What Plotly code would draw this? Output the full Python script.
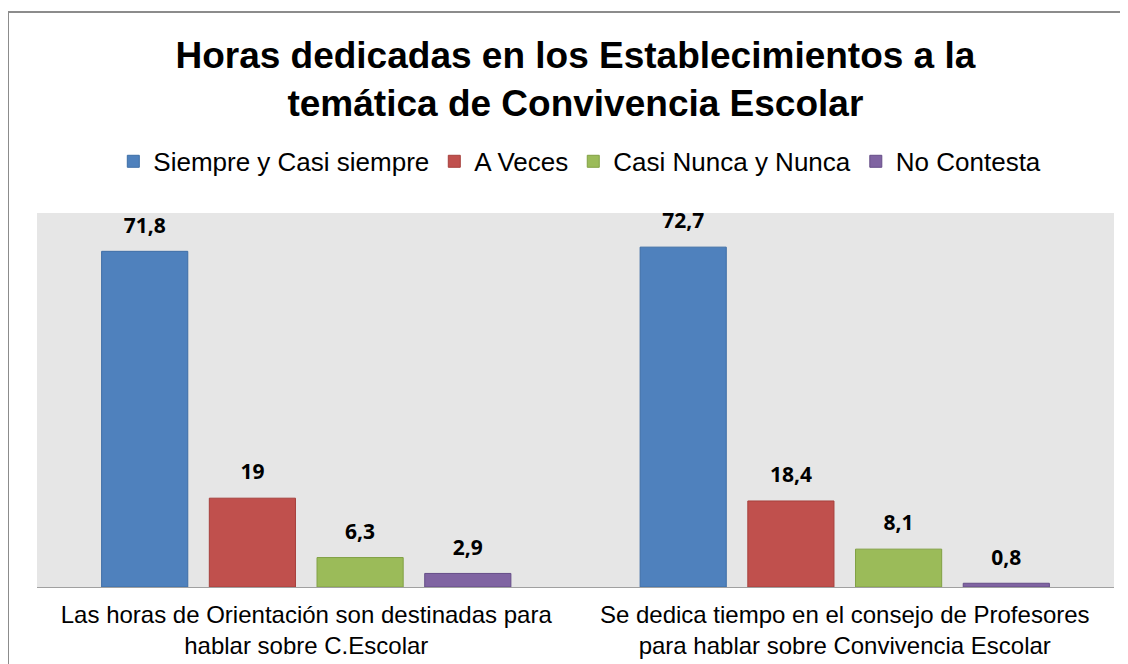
import plotly.graph_objects as go

categories = [
    "Las horas de Orientación son destinadas para<br>hablar sobre C.Escolar",
    "Se dedica tiempo en el consejo de Profesores<br>para hablar sobre Convivencia Escolar",
]
siempre = [71.8, 72.7]
a_veces = [19, 18.4]
casi_nunca = [6.3, 8.1]
no_contesta = [2.9, 0.8]

series_names = ["Siempre y Casi siempre", "A Veces", "Casi Nunca y Nunca", "No Contesta"]
series_values = [siempre, a_veces, casi_nunca, no_contesta]
fill_colors = ["#4f81bd", "#c0504d", "#9bbb59", "#8064a2"]
line_colors = ["#3e6ea6", "#a6403d", "#81a044", "#654d88"]

fig = go.Figure()
for name, vals, fc, lc in zip(series_names, series_values, fill_colors, line_colors):
    fig.add_trace(go.Bar(
        x=categories,
        y=vals,
        name=name,
        marker=dict(color=fc, line=dict(color=lc, width=1)),
        hoverinfo="x+y",
    ))

# value labels, grouped the same way as the bars
for name, vals in zip(series_names, series_values):
    fig.add_trace(go.Scatter(
        x=categories,
        y=vals,
        mode="markers+text",
        text=[f"{v:g}".replace(".", ",") for v in vals],
        textposition="top center",
        textfont=dict(family="Open Sans, Liberation Sans", size=21, color="black", weight="bold"),
        marker=dict(size=20, opacity=0),
        showlegend=False,
        hoverinfo="skip",
        cliponaxis=False,
    ))

fig.update_layout(
    width=1128,
    height=664,
    paper_bgcolor="white",
    plot_bgcolor="#e6e6e6",
    margin=dict(l=29, r=22, t=205, b=85),
    barmode="group",
    bargap=0.2,
    bargroupgap=0.2,
    scattermode="group",
    scattergap=0.2,
    title=dict(
        text="Horas dedicadas en los Establecimientos a la<br>temática de Convivencia Escolar",
        x=0.503, xanchor="center",
        y=1 - 60 / 664, yanchor="middle",
        font=dict(family="Liberation Sans, Arial", size=37, color="black", weight="bold"),
    ),
    legend=dict(
        orientation="h",
        x=0.504, xanchor="center",
        y=1.138, yanchor="middle",
        font=dict(family="Liberation Sans, Arial", size=26, color="black"),
        itemwidth=30,
        traceorder="normal",
    ),
    xaxis=dict(
        showline=True, linecolor="#a0a0a0", linewidth=1,
        ticks="", ticklabelstandoff=6,
        tickfont=dict(family="Liberation Sans, Arial", size=24, color="black"),
    ),
    yaxis=dict(range=[0, 80], showgrid=False, showticklabels=False, zeroline=False),
    shapes=[dict(
        type="rect", xref="paper", yref="paper",
        x0=(0 - 29) / 1077, x1=1.2, y0=-0.5, y1=(579 - 4) / 374,
        line=dict(color="#8c8c8c", width=2), fillcolor="rgba(0,0,0,0)", layer="below",
    )],
)

fig.write_html("out.html")
